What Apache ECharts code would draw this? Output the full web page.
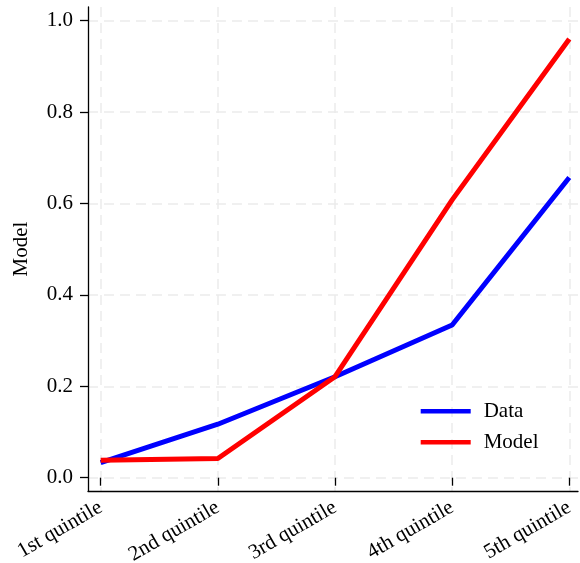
<!DOCTYPE html>
<html>
<head>
<meta charset="utf-8">
<script src="https://cdn.jsdelivr.net/npm/echarts@6/dist/echarts.min.js"></script>
<style>html,body{margin:0;padding:0;background:#fff}#c{width:580px;height:563px}</style>
</head>
<body>
<div id="c"></div>
<script>
var categories = ['1st quintile', '2nd quintile', '3rd quintile', '4th quintile', '5th quintile'];
var dataValues = [0.033, 0.117, 0.221, 0.334, 0.657];
var modelValues = [0.038, 0.042, 0.221, 0.608, 0.960];
var yTickValues = [0, 0.2, 0.4, 0.6, 0.8, 1.0];
var yTickLabels = ['0.0', '0.2', '0.4', '0.6', '0.8', '1.0'];

var FONT = 'Liberation Serif';
var yMin = -0.0291, yMax = 1.030;
var gridStyle = { color: '#ececec', width: 1.5, type: [10, 6] };

var chart = echarts.init(document.getElementById('c'));
chart.setOption({
  animation: false,
  textStyle: { fontFamily: FONT, color: '#000' },
  grid: [
    { left: 100.7, right: 10.7, top: 7, bottom: 72, containLabel: false, outerBoundsMode: 'none' },
    { left: 88, right: 2, top: 7, bottom: 72, containLabel: false, outerBoundsMode: 'none' }
  ],
  legend: {
    orient: 'vertical',
    left: 420.7,
    top: 400.7,
    padding: 0,
    itemWidth: 50,
    itemHeight: 14,
    itemGap: 10,
    icon: 'path://M0,0H50V4.5H0Z',
    symbolKeepAspect: true,
    textStyle: { fontFamily: FONT, fontSize: 21, color: '#000', padding: [0, 0, 0, 8] },
    data: ['Data', 'Model']
  },
  xAxis: [
    {
      gridIndex: 0, type: 'category', data: categories, boundaryGap: false,
      axisLine: { show: false },
      axisTick: { show: true, length: 8, lineStyle: { color: '#000', width: 1.3 } },
      axisLabel: { rotate: 30, margin: 15, fontFamily: FONT, fontSize: 21, color: '#000', interval: 0 },
      splitLine: { show: true, lineStyle: gridStyle }
    },
    {
      gridIndex: 1, type: 'value', min: 0, max: 1,
      axisLine: { show: true, onZero: false, lineStyle: { color: '#000', width: 1.3 } },
      axisTick: { show: false }, axisLabel: { show: false }, splitLine: { show: false }
    }
  ],
  yAxis: [
    {
      gridIndex: 0, type: 'value', min: yMin, max: yMax, show: false,
      splitLine: { show: false }
    },
    {
      gridIndex: 1, type: 'value', min: yMin, max: yMax,
      axisLine: { show: true, onZero: false, lineStyle: { color: '#000', width: 1.3 } },
      axisTick: { show: true, length: 8, lineStyle: { color: '#000', width: 1.3 },
        customValues: yTickValues },
      axisLabel: { margin: 15, fontFamily: FONT, fontSize: 21, color: '#000',
        customValues: yTickValues,
        formatter: function (v) { return yTickLabels[Math.round(v / 0.2)]; } },
      splitLine: { show: false },
      name: 'Model', nameLocation: 'middle', nameRotate: 90, nameGap: 56,
      nameTextStyle: { fontFamily: FONT, fontSize: 21, color: '#000' }
    }
  ],
  series: [
    {
      name: 'Data', type: 'line', xAxisIndex: 0, yAxisIndex: 0, data: dataValues, z: 3,
      symbol: 'none', lineStyle: { color: '#0000ff', width: 5 }, itemStyle: { color: '#0000ff' }
    },
    {
      name: 'Model', type: 'line', xAxisIndex: 0, yAxisIndex: 0, data: modelValues, z: 3,
      symbol: 'none', lineStyle: { color: '#ff0000', width: 5 }, itemStyle: { color: '#ff0000' }
    },
    {
      name: 'grid', type: 'line', xAxisIndex: 1, yAxisIndex: 1, data: [], z: 0,
      markLine: {
        z: 0, silent: true, symbol: 'none', label: { show: false }, animation: false,
        lineStyle: gridStyle,
        emphasis: { disabled: true },
        data: yTickValues.map(function (v) { return { yAxis: v }; })
      }
    }
  ]
});
</script>
</body>
</html>
